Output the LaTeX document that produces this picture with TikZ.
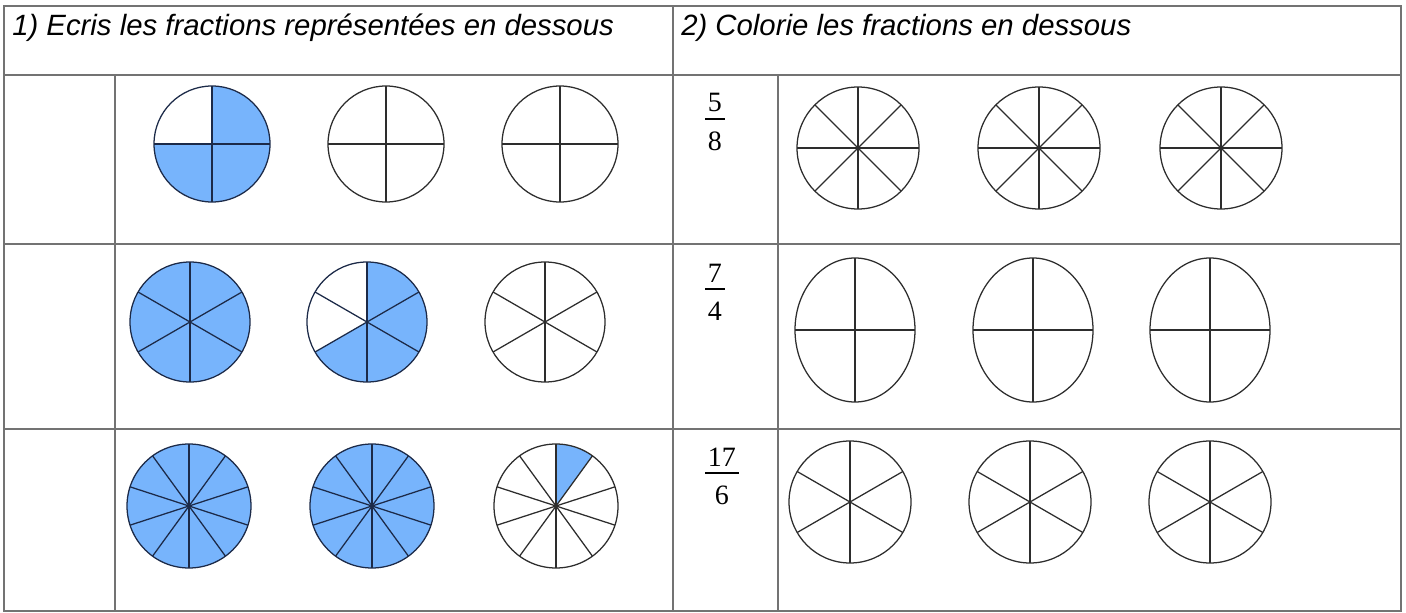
\documentclass[tikz,border=0pt]{standalone}
\usepackage{fontspec}
\setmainfont{Liberation Serif}
\newfontfamily\headfont{Liberation Sans}
\usetikzlibrary{calc}

\definecolor{partblue}{RGB}{119,180,252}
\definecolor{gridgray}{RGB}{115,115,115}
\definecolor{rimdark}{RGB}{45,45,45}
\definecolor{rimnavy}{RGB}{28,42,72}

% one pie: centre, x radius, y radius, parts, first spoke angle, shaded parts (0 = none), line colour
\newcommand{\pie}[7]{%
  \begin{scope}[shift={#1}]
    \foreach \k in {#6}{%
      \ifnum\k>0
        \fill[partblue] (0,0) -- ({#5+360/#4*(\k-1)}:#2 and #3)
          arc[start angle={#5+360/#4*(\k-1)}, delta angle={360/#4}, x radius=#2, y radius=#3] -- cycle;
      \fi}
    \foreach \k in {1,...,#4}
      \draw[spoke, draw=#7] (0,0) -- ({#5+360/#4*\k}:#2 and #3);
    \draw[rim, draw=#7] (0,0) ellipse[x radius=#2, y radius=#3];
  \end{scope}}

% one fraction: name, left x, bar y, numerator, denominator
\newcommand{\fracat}[5]{%
  \node[fracdigit, anchor=base west] (#1n) at (#2,{#3+7}) {#4};
  \node[fracdigit, anchor=base] (#1d) at ($(#1n.base)+(0,-38)$) {#5};
  \draw[fracbar] ($(#1n.base west)+(0,-7)$) -- ($(#1n.base east)+(0,-7)$);}

\begin{document}
\begin{tikzpicture}[x=0.75pt, y=0.75pt,
    gridline/.style={draw=gridgray, line width=1.1pt},
    rim/.style={line width=0.95pt},
    spoke/.style={line width=0.95pt},
    fracdigit/.style={font=\fontsize{21}{25}\selectfont, inner xsep=1.9pt, inner ysep=0pt},
    fracbar/.style={line width=1.3pt},
    headtxt/.style={font=\headfont\itshape\fontsize{22}{26}\selectfont, anchor=base west, inner sep=0pt}]
    \useasboundingbox (0,0) rectangle (1406,612);

    % Table
    \draw[gridline] (4,1) rectangle (1401,606);
    \draw[gridline] (4,537) -- (1401,537);
    \draw[gridline] (4,368) -- (1401,368);
    \draw[gridline] (4,183) -- (1401,183);
    \draw[gridline] (673,1) -- (673,606);
    \draw[gridline] (115,1) -- (115,537);
    \draw[gridline] (778,1) -- (778,537);

    % Headings
    \node[headtxt] (head1) at (12,576) {1) Ecris les fractions représentées en dessous};
    \node[headtxt] (head2) at (681,576) {2) Colorie les fractions en dessous};

    % 1) quarters
    \pie{(212,468)}{58}{58}{4}{0}{1,3,4}{rimnavy}
    \pie{(386,468)}{58}{58}{4}{0}{0}{rimdark}
    \pie{(560,468)}{58}{58}{4}{0}{0}{rimdark}

    % 1) sixths
    \pie{(190,290)}{60}{60}{6}{30}{1,2,3,4,5,6}{rimnavy}
    \pie{(367,290)}{60}{60}{6}{30}{1,4,5,6}{rimnavy}
    \pie{(545,290)}{60}{60}{6}{30}{0}{rimdark}

    % 1) tenths
    \pie{(189,106)}{62}{62}{10}{18}{1,2,3,4,5,6,7,8,9,10}{rimnavy}
    \pie{(372,106)}{62}{62}{10}{18}{1,2,3,4,5,6,7,8,9,10}{rimnavy}
    \pie{(556,106)}{62}{62}{10}{18}{2}{rimdark}

    % 2) fractions to colour
    \fracat{f58}{705}{493}{5}{8}
    \fracat{f74}{705}{323}{7}{4}
    \fracat{f176}{705}{139}{17}{6}

    % 2) empty pies
    \foreach \cx in {858,1039,1221} \pie{(\cx,464)}{61}{61}{8}{0}{0}{rimdark};
    \foreach \cx in {855,1033,1210} \pie{(\cx,282)}{60}{72}{4}{0}{0}{rimdark};
    \foreach \cx in {850,1030,1210} \pie{(\cx,110)}{61}{61}{6}{30}{0}{rimdark};
\end{tikzpicture}
\end{document}
